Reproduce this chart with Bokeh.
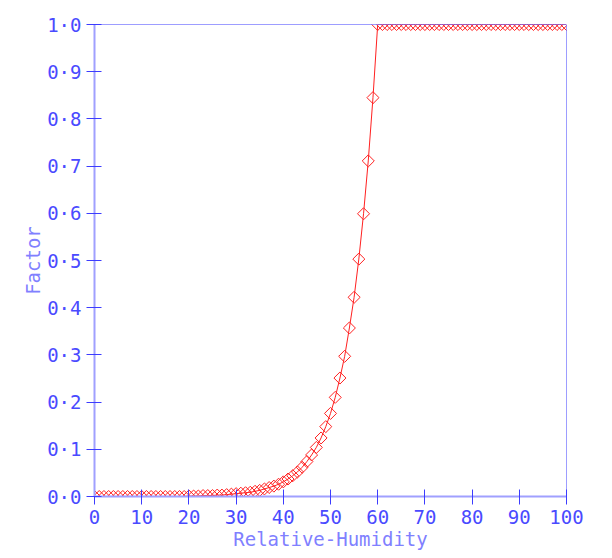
import math
from bokeh.plotting import figure
from bokeh.models import Range1d, Span, FixedTicker, CustomJSTickFormatter
from bokeh.embed import file_html
from bokeh.resources import INLINE

# Data
rh = list(range(0, 101))
factor_low = [0.0] * 20
factor_mid = [0.001, 0.001, 0.001, 0.002, 0.002, 0.002, 0.003, 0.003, 0.004, 0.005,
              0.006, 0.007, 0.008, 0.009, 0.011, 0.013, 0.016, 0.019, 0.022, 0.026,
              0.031, 0.037, 0.044, 0.052, 0.062, 0.074, 0.088, 0.104, 0.124, 0.148,
              0.176, 0.210, 0.251, 0.297, 0.357, 0.422, 0.503, 0.599, 0.711, 0.845]
factor_high = [1.0] * 41
factor = factor_low + factor_mid + factor_high

x_ticks = [0, 10, 20, 30, 40, 50, 60, 70, 80, 90, 100]
y_ticks = [0.0, 0.1, 0.2, 0.3, 0.4, 0.5, 0.6, 0.7, 0.8, 0.9, 1.0]

FONT = "DejaVu Sans Mono"
TICK_COL = "#4a4aff"
LABEL_COL = "#8080ff"
AXIS_COL = "#a0a0ff"
FRAME_COL = "#3c3cff"

p = figure(width=612, height=558, output_backend="svg", toolbar_location=None,
           x_range=Range1d(0, 100), y_range=Range1d(0, 1),
           min_border_left=94, min_border_right=46, min_border_top=24, min_border_bottom=62)
p.outline_line_color = None
p.xgrid.grid_line_color = None
p.ygrid.grid_line_color = None

p.line(rh, factor, line_color="#ff2020", line_width=1)
p.scatter(rh, factor, marker="square", angle=math.pi / 4, size=8.5, fill_color=None,
          line_color="#ff2020", line_width=1)

p.add_layout(Span(location=1.0, dimension="width", line_color=FRAME_COL, line_width=1))
p.add_layout(Span(location=100, dimension="height", line_color=FRAME_COL, line_width=1))

for ax in (p.xaxis[0], p.yaxis[0]):
    ax.axis_line_color = AXIS_COL
    ax.axis_line_width = 2
    ax.major_tick_line_color = FRAME_COL
    ax.major_tick_in = 7
    ax.major_tick_out = 8
    ax.minor_tick_line_color = None
    ax.major_label_text_font = FONT
    ax.major_label_text_font_size = "19px"
    ax.major_label_text_color = TICK_COL
    ax.axis_label_text_font = FONT
    ax.axis_label_text_font_size = "19px"
    ax.axis_label_text_font_style = "normal"
    ax.axis_label_text_color = LABEL_COL
    ax.major_label_standoff = 5

p.xaxis[0].axis_label_standoff = 1
p.yaxis[0].axis_label_standoff = 0
p.xaxis[0].ticker = FixedTicker(ticks=x_ticks)
p.yaxis[0].ticker = FixedTicker(ticks=y_ticks)
p.yaxis[0].formatter = CustomJSTickFormatter(code="return tick.toFixed(1).replace('.', '\u00b7');")
p.xaxis[0].axis_label = "Relative-Humidity"
p.yaxis[0].axis_label = "Factor"

open("out.html", "w").write(file_html(p, INLINE))
